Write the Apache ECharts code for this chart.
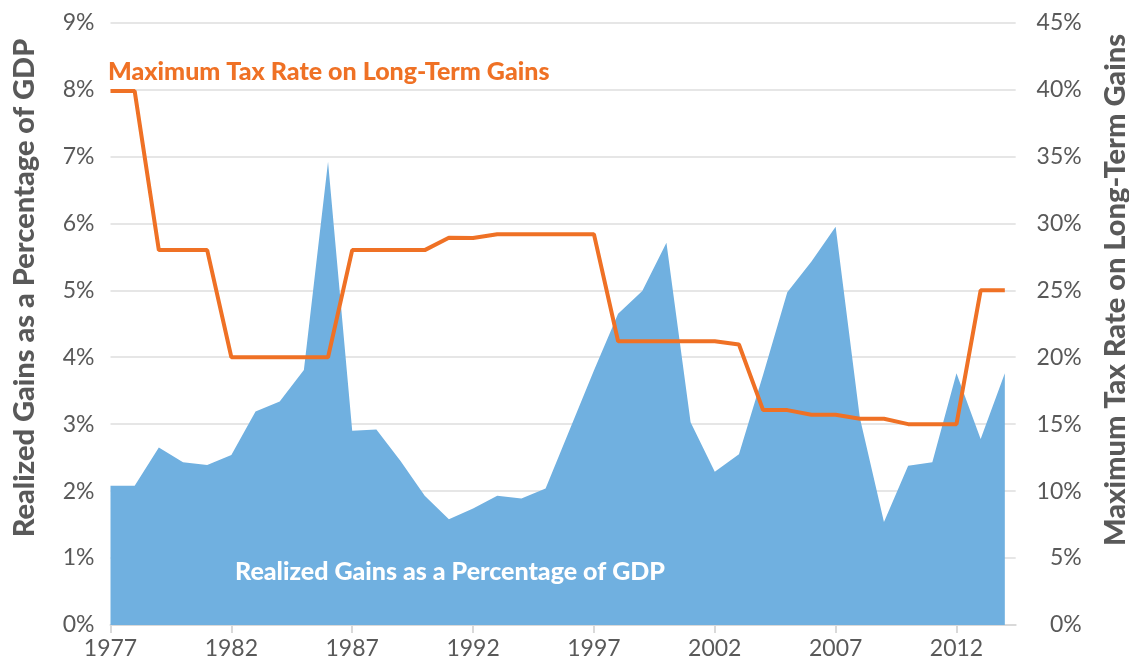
<!DOCTYPE html>
<html>
<head>
<meta charset="utf-8">
<style>
  html, body { margin: 0; padding: 0; background: #fff; }
  #chart { width: 1129px; height: 668px; }
</style>
<script src="https://cdn.jsdelivr.net/npm/echarts@6/dist/echarts.min.js"></script>
</head>
<body>
<div id="chart"></div>
<script>
// 年份
const years = [
  1977, 1978, 1979, 1980, 1981, 1982, 1983, 1984, 1985, 1986,
  1987, 1988, 1989, 1990, 1991, 1992, 1993, 1994, 1995, 1996,
  1997, 1998, 1999, 2000, 2001, 2002, 2003, 2004, 2005, 2006,
  2007, 2008, 2009, 2010, 2011, 2012, 2013, 2014,
];
// 已实现收益占GDP (%)
const gainsPct = [
  2.08, 2.08, 2.65, 2.43, 2.39, 2.54, 3.19, 3.34, 3.81, 6.92,
  2.9, 2.92, 2.45, 1.93, 1.58, 1.74, 1.93, 1.89, 2.04, 2.92,
  3.8, 4.65, 4.99, 5.71, 3.03, 2.29, 2.55, 3.74, 4.97, 5.43,
  5.95, 3.1, 1.54, 2.38, 2.43, 3.76, 2.78, 3.76,
];
// 长期收益最高税率 (%)
const taxRate = [
  39.875, 39.875, 28, 28, 28, 20, 20, 20, 20, 20,
  28, 28, 28, 28, 28.93, 28.9, 29.19, 29.19, 29.19, 29.19,
  29.19, 21.19, 21.19, 21.19, 21.19, 21.19, 20.95, 16.05, 16.05, 15.7,
  15.7, 15.4, 15.4, 15.0, 15.0, 15.0, 25.0, 25.0,
];
const leftTicks = { min: 0, max: 9, interval: 1 };
const rightTicks = { min: 0, max: 45, interval: 5 };

const gray = "#595959";
const blue = "#70B0E0";
const orange = "#EF7125";

// 文字样式
const boldText = (text, fill, size, extra) =>
  Object.assign(
    { text: text, fill: fill, fontSize: size, fontWeight: 900, fontFamily: "Lato" },
    extra || {}
  );

let myChart = echarts.init(document.getElementById("chart"));
myChart.setOption({
  animation: false,
  textStyle: { fontFamily: "Lato" },
  grid: { left: 110.5, right: 113.3, top: 22.5, bottom: 43 },
  xAxis: {
    type: "value",
    min: 1977,
    max: 2014.45,
    interval: 5,
    splitLine: { show: false },
    axisLine: { lineStyle: { color: "#d9d9d9", width: 2 } },
    axisTick: { show: true, length: 8, lineStyle: { color: "#d9d9d9", width: 2 } },
    axisLabel: {
      color: gray,
      fontSize: 23,
      margin: 12,
      showMaxLabel: false,
      formatter: (v) => (Number.isInteger(v) ? String(v) : ""),
    },
  },
  yAxis: [
    {
      type: "value",
      min: leftTicks.min,
      max: leftTicks.max,
      interval: leftTicks.interval,
      axisLine: { show: false },
      axisTick: { show: false },
      splitLine: { lineStyle: { color: "#dedede", width: 1.5 } },
      axisLabel: { color: gray, fontSize: 23, margin: 16, formatter: "{value}%" },
    },
    {
      type: "value",
      position: "right",
      min: rightTicks.min,
      max: rightTicks.max,
      interval: rightTicks.interval,
      axisLine: { show: false },
      axisTick: { show: false },
      splitLine: { show: false },
      axisLabel: {
        color: gray,
        fontSize: 23,
        margin: 66,
        align: "right",
        formatter: "{value}%",
      },
    },
  ],
  graphic: [
    {
      type: "text",
      left: 108,
      top: 59,
      z: 100,
      style: boldText("Maximum Tax Rate on Long-Term Gains", orange, 25),
    },
    {
      type: "text",
      left: 235,
      top: 559,
      z: 100,
      style: boldText("Realized Gains as a Percentage of GDP", "#fff", 25),
    },
    {
      type: "text",
      x: 25,
      y: 288,
      rotation: Math.PI / 2,
      z: 100,
      style: boldText("Realized Gains as a Percentage of GDP", gray, 29, {
        align: "center",
        verticalAlign: "middle",
      }),
    },
    {
      type: "text",
      x: 1116,
      y: 290,
      rotation: Math.PI / 2,
      z: 100,
      style: boldText("Maximum Tax Rate on Long-Term Gains", gray, 29, {
        align: "center",
        verticalAlign: "middle",
      }),
    },
  ],
  series: [
    {
      name: "Realized Gains as a Percentage of GDP",
      type: "line",
      yAxisIndex: 0,
      data: years.map((y, i) => [y, gainsPct[i]]),
      showSymbol: false,
      lineStyle: { width: 0 },
      areaStyle: { color: blue, opacity: 1 },
      z: 1,
    },
    {
      name: "Maximum Tax Rate on Long-Term Gains",
      type: "line",
      yAxisIndex: 1,
      data: years.map((y, i) => [y, taxRate[i]]),
      showSymbol: false,
      lineStyle: { color: orange, width: 4 },
      z: 3,
    },
  ],
});
window.onresize = myChart.resize;
</script>
</body>
</html>
